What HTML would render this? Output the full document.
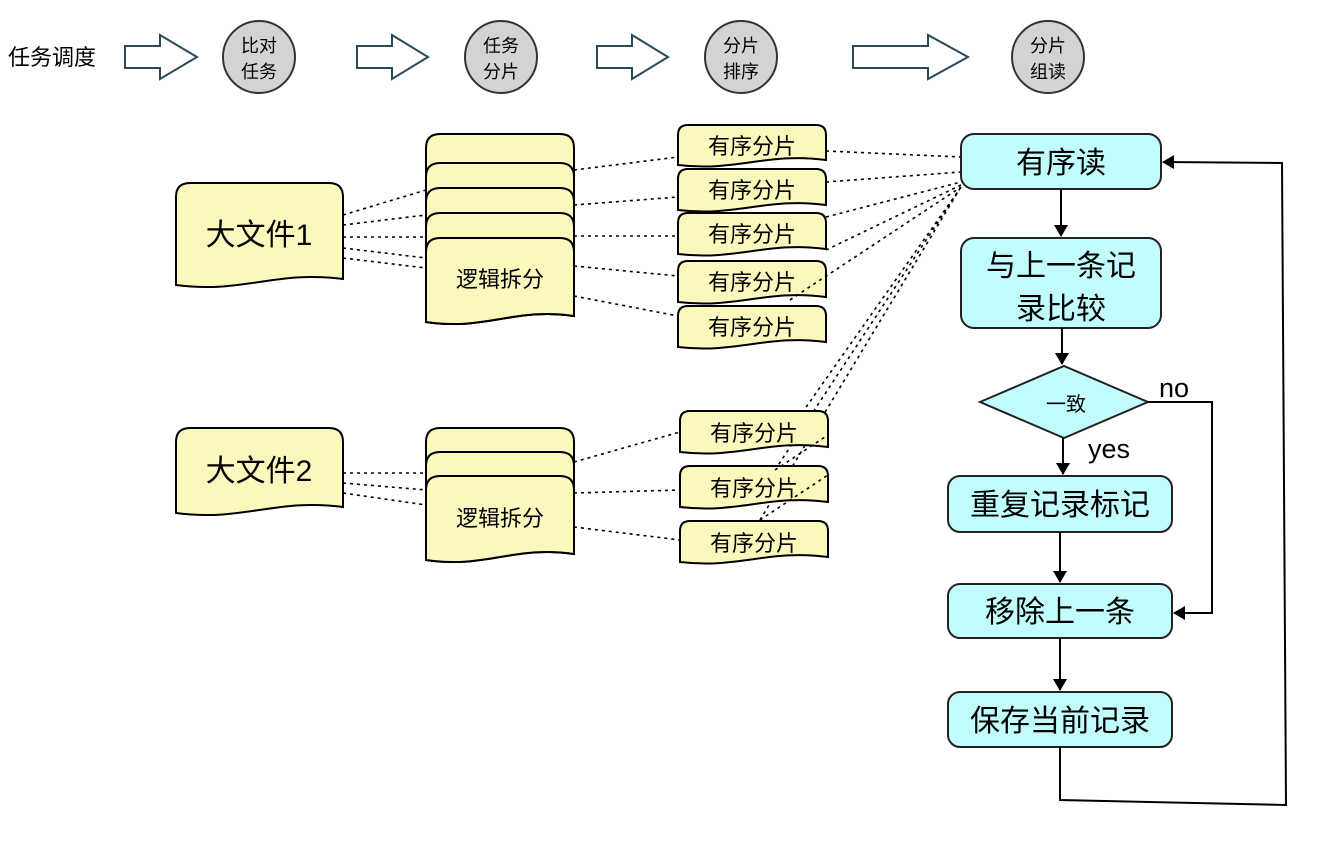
<!DOCTYPE html>
<html><head><meta charset="utf-8"><style>
html,body{margin:0;padding:0;background:#fff}
svg{display:block}
text{font-family:"Liberation Sans","Noto Sans CJK SC",sans-serif;fill:#000}
</style></head><body>
<svg width="1344" height="846" viewBox="0 0 1344 846" xmlns="http://www.w3.org/2000/svg">
<defs>
<marker id="ah" markerWidth="12" markerHeight="14" refX="11" refY="7" orient="auto" markerUnits="userSpaceOnUse">
<path d="M0,0 L12,7 L0,14 Z" fill="#000"/></marker>
</defs>
<text x="8" y="65" font-size="22">任务调度</text>
<g fill="#fff" stroke="#2a4a5a" stroke-width="2">
<polygon points="125,46 160,46 160,35 197,57 160,79 160,68 125,68"/>
<polygon points="357,46 392,46 392,35 428,57 392,79 392,68 357,68"/>
<polygon points="597,46 632,46 632,35 668,57 632,79 632,68 597,68"/>
<polygon points="853,46 928,46 928,35 968,57 928,79 928,68 853,68"/>
</g>
<g fill="#d3d3d3" stroke="#333" stroke-width="2">
<circle cx="259" cy="57" r="36"/><circle cx="501" cy="57" r="36"/>
<circle cx="741" cy="57" r="36"/><circle cx="1048" cy="57" r="36"/>
</g>
<g font-size="18" text-anchor="middle">
<text x="259" y="52">比对</text><text x="259" y="78">任务</text>
<text x="501" y="52">任务</text><text x="501" y="78">分片</text>
<text x="741" y="52">分片</text><text x="741" y="78">排序</text>
<text x="1048" y="52">分片</text><text x="1048" y="78">组读</text>
</g>
<g stroke="#000" stroke-width="1.6" stroke-dasharray="3,4" fill="none">
<path d="M343,215 L426,190 M343,225 L426,215 M343,237 L426,237 M343,248 L426,258 M343,258 L426,268"/>
<path d="M574,170 L678,157 M574,205 L678,197 M574,236 L678,236 M574,266 L678,276 M574,296 L678,316"/>
<path d="M826,151 L961,157 M826,182 L961,172 M826,217 L961,182 M826,250 L961,185 M790,300 L961,187 M760,520 L961,187 M775,470 L961,187 M790,430 L961,187"/>
<path d="M343,473 L426,473 M343,483 L426,490 M343,493 L426,505"/>
<path d="M574,462 L680,432 M574,493 L680,490 M574,527 L680,540"/>
</g>
<g fill="#fbf8bd" stroke="#000" stroke-width="2">
<path d="M176,285 V197 Q176,183 190,183 H329 Q343,183 343,197 V279 C276,270 243,294 176,285 Z"/>
<path d="M176,513 V442 Q176,428 190,428 H329 Q343,428 343,442 V507 C276,498 243,522 176,513 Z"/>
<path d="M426,322 V148 Q426,134 440,134 H560 Q574,134 574,148 V316 C515,307 485,331 426,322 Z"/>
<path d="M426,322 V177 Q426,163 440,163 H560 Q574,163 574,177 V316 C515,307 485,331 426,322 Z"/>
<path d="M426,322 V202 Q426,188 440,188 H560 Q574,188 574,202 V316 C515,307 485,331 426,322 Z"/>
<path d="M426,322 V227 Q426,213 440,213 H560 Q574,213 574,227 V316 C515,307 485,331 426,322 Z"/>
<path d="M426,322 V252 Q426,238 440,238 H560 Q574,238 574,252 V316 C515,307 485,331 426,322 Z"/>
<path d="M426,560 V442 Q426,428 440,428 H560 Q574,428 574,442 V554 C515,545 485,569 426,560 Z"/>
<path d="M426,560 V466 Q426,452 440,452 H560 Q574,452 574,466 V554 C515,545 485,569 426,560 Z"/>
<path d="M426,560 V490 Q426,476 440,476 H560 Q574,476 574,490 V554 C515,545 485,569 426,560 Z"/>
<path d="M678,165 V135 Q678,125 688,125 H816 Q826,125 826,135 V160 C767,152 737,172 678,165 Z"/>
<path d="M678,210 V179 Q678,169 688,169 H816 Q826,169 826,179 V205 C767,197 737,217 678,210 Z"/>
<path d="M678,254 V223 Q678,213 688,213 H816 Q826,213 826,223 V249 C767,241 737,261 678,254 Z"/>
<path d="M678,302 V271 Q678,261 688,261 H816 Q826,261 826,271 V297 C767,289 737,309 678,302 Z"/>
<path d="M678,347 V316 Q678,306 688,306 H816 Q826,306 826,316 V342 C767,334 737,354 678,347 Z"/>
<path d="M680,452 V421 Q680,411 690,411 H818 Q828,411 828,421 V447 C769,439 739,459 680,452 Z"/>
<path d="M680,507 V476 Q680,466 690,466 H818 Q828,466 828,476 V502 C769,494 739,514 680,507 Z"/>
<path d="M680,562 V531 Q680,521 690,521 H818 Q828,521 828,531 V557 C769,549 739,569 680,562 Z"/>
</g>
<g stroke="#000" stroke-width="1.6" stroke-dasharray="3,4" fill="none">
<path d="M790,300 L826,276 M760,520 L828,475 M775,470 L828,435"/>
</g>
<g text-anchor="middle">
<text x="259" y="245" font-size="30">大文件1</text>
<text x="259" y="481" font-size="30">大文件2</text>
<text x="500" y="287" font-size="22">逻辑拆分</text>
<text x="500" y="526" font-size="22">逻辑拆分</text>
<g font-size="22">
<text x="752" y="154">有序分片</text><text x="752" y="198">有序分片</text>
<text x="752" y="242">有序分片</text><text x="752" y="290">有序分片</text>
<text x="752" y="335">有序分片</text><text x="754" y="441">有序分片</text>
<text x="754" y="496">有序分片</text><text x="754" y="551">有序分片</text>
</g>
</g>
<g fill="#c2fdfd" stroke="#222" stroke-width="2">
<rect x="961" y="134" width="200" height="55" rx="13"/>
<rect x="961" y="238" width="200" height="90" rx="13"/>
<polygon points="980,402 1064,366 1148,402 1064,438"/>
<rect x="948" y="476" width="224" height="56" rx="12"/>
<rect x="948" y="584" width="224" height="54" rx="12"/>
<rect x="948" y="692" width="224" height="55" rx="12"/>
</g>
<g stroke="#000" stroke-width="2" fill="none">
<line x1="1061" y1="189" x2="1061" y2="236" marker-end="url(#ah)"/>
<line x1="1062" y1="328" x2="1062" y2="364" marker-end="url(#ah)"/>
<line x1="1063" y1="438" x2="1063" y2="474" marker-end="url(#ah)"/>
<line x1="1060" y1="532" x2="1060" y2="582" marker-end="url(#ah)"/>
<line x1="1060" y1="638" x2="1060" y2="690" marker-end="url(#ah)"/>
<polyline points="1148,402 1212,402 1212,613 1174,613" marker-end="url(#ah)"/>
<polyline points="1060,747 1060,800 1286,805 1282,163 1163,162" marker-end="url(#ah)"/>
</g>
<g text-anchor="middle" font-size="30">
<text x="1061" y="173">有序读</text>
<text x="1061" y="276">与上一条记</text>
<text x="1061" y="319">录比较</text>
<text x="1060" y="515">重复记录标记</text>
<text x="1060" y="622">移除上一条</text>
<text x="1060" y="731">保存当前记录</text>
<text x="1066" y="411" font-size="20">一致</text>
</g>
<text x="1159" y="397" font-size="27">no</text>
<text x="1088" y="458" font-size="27">yes</text>
</svg>
</body></html>
